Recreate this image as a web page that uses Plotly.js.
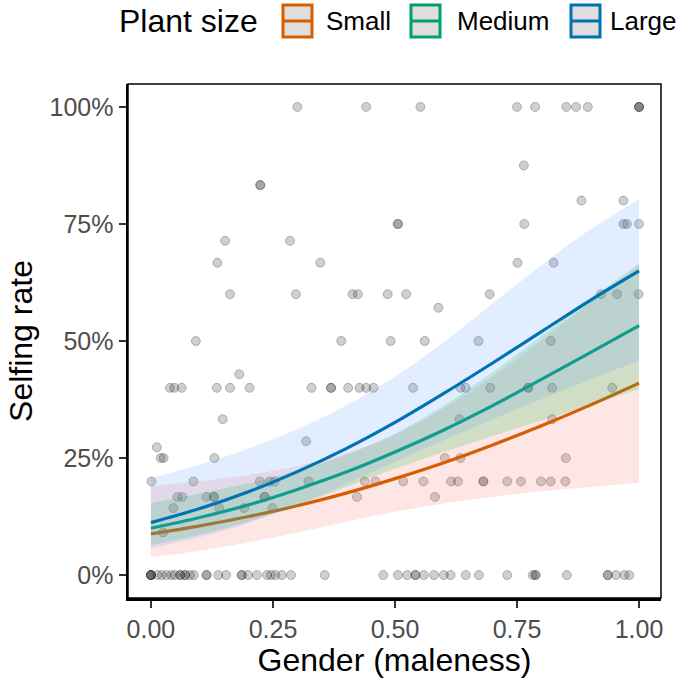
<!DOCTYPE html>
<html>
<head>
<meta charset="utf-8">
<script src="https://cdn.plot.ly/plotly-3.0.1.min.js"></script>
<style>
  html, body { margin: 0; padding: 0; background: #fff; }
  #chart { width: 677px; height: 683px; }
</style>
</head>
<body>
<div id="chart"></div>
<script>
// observed plants: gender (maleness) and selfing rate
var pointGender = [
  0.300, 0.441, 0.552, 0.750, 0.787, 0.851, 0.871, 0.895, 1.000, 1.000, 1.000,
  0.764,
  0.224, 0.224,
  0.882, 0.968,
  0.505, 0.507, 0.765, 0.968, 0.975, 1.000,
  0.152, 0.285,
  0.136, 0.347, 0.751, 0.825,
  0.162, 0.297, 0.413, 0.424, 0.485, 0.523, 0.694, 0.922, 0.955, 0.999,
  0.589,
  0.092, 0.390, 0.491, 0.561, 0.671, 0.819,
  0.181,
  0.039, 0.048, 0.063, 0.135, 0.162, 0.202, 0.329, 0.369, 0.369, 0.404, 0.427,
  0.441, 0.456, 0.537, 0.634, 0.645, 0.695, 0.773, 0.773, 0.822, 0.945,
  0.147, 0.632, 0.822,
  0.318,
  0.012,
  0.020, 0.026, 0.130, 0.602, 0.634, 0.850,
  0.001, 0.087, 0.223, 0.243, 0.253, 0.323, 0.438, 0.460, 0.517, 0.558, 0.615,
  0.629, 0.681, 0.681, 0.730, 0.758, 0.799, 0.819, 0.849,
  0.054, 0.064, 0.114, 0.129, 0.129, 0.233, 0.233, 0.422, 0.582,
  0.046, 0.140, 0.191, 0.249,
  0.025,
  0.000, 0.000, 0.000, 0.000, 0.013, 0.022, 0.032, 0.042, 0.049, 0.060, 0.060,
  0.070, 0.070, 0.080, 0.088, 0.114, 0.114, 0.138, 0.154, 0.186, 0.186, 0.199,
  0.217, 0.238, 0.246, 0.255, 0.268, 0.287, 0.356, 0.476, 0.506, 0.525, 0.542,
  0.542, 0.559, 0.580, 0.600, 0.614, 0.645, 0.672, 0.730, 0.782, 0.788, 0.788,
  0.852, 0.936, 0.936, 0.953, 0.970, 0.980
];
var pointSelfing = [
  1, 1, 1, 1, 1, 1, 1, 1, 1, 1, 1,
  0.875,
  0.833, 0.833,
  0.8, 0.8,
  0.75, 0.75, 0.75, 0.75, 0.75, 0.75,
  0.714, 0.714,
  0.667, 0.667, 0.667, 0.667,
  0.6, 0.6, 0.6, 0.6, 0.6, 0.6, 0.6, 0.6, 0.6, 0.6,
  0.571,
  0.5, 0.5, 0.5, 0.5, 0.5, 0.5,
  0.429,
  0.4, 0.4, 0.4, 0.4, 0.4, 0.4, 0.4, 0.4, 0.4, 0.4, 0.4,
  0.4, 0.4, 0.4, 0.4, 0.4, 0.4, 0.4, 0.4, 0.4, 0.4,
  0.333, 0.333, 0.333,
  0.286,
  0.273,
  0.25, 0.25, 0.25, 0.25, 0.25, 0.25,
  0.2, 0.2, 0.2, 0.2, 0.2, 0.2, 0.2, 0.2, 0.2, 0.2, 0.2,
  0.2, 0.2, 0.2, 0.2, 0.2, 0.2, 0.2, 0.2,
  0.167, 0.167, 0.167, 0.167, 0.167, 0.167, 0.167, 0.167, 0.167,
  0.143, 0.143, 0.143, 0.143,
  0.091,
  0, 0, 0, 0, 0, 0, 0, 0, 0, 0, 0,
  0, 0, 0, 0, 0, 0, 0, 0, 0, 0, 0,
  0, 0, 0, 0, 0, 0, 0, 0, 0, 0, 0,
  0, 0, 0, 0, 0, 0, 0, 0, 0, 0, 0,
  0, 0, 0, 0, 0, 0
];

// fitted curves with confidence bands, read at these gender values
var genderGrid = [0, 0.1, 0.2, 0.3, 0.4, 0.5, 0.6, 0.7, 0.8, 0.9, 1];

var smallFit   = [0.088, 0.105, 0.125, 0.148, 0.175, 0.206, 0.240, 0.278, 0.319, 0.363, 0.410];
var smallLower = [0.038, 0.052, 0.070, 0.091, 0.114, 0.135, 0.153, 0.167, 0.179, 0.188, 0.197];
var smallUpper = [0.190, 0.201, 0.214, 0.233, 0.260, 0.300, 0.356, 0.424, 0.502, 0.583, 0.663];

var mediumFit   = [0.100, 0.123, 0.150, 0.183, 0.220, 0.263, 0.310, 0.362, 0.418, 0.475, 0.533];
var mediumLower = [0.064, 0.086, 0.114, 0.148, 0.188, 0.227, 0.263, 0.297, 0.330, 0.363, 0.397];
var mediumUpper = [0.154, 0.174, 0.196, 0.223, 0.257, 0.302, 0.362, 0.433, 0.511, 0.590, 0.665];

var largeFit   = [0.112, 0.142, 0.178, 0.221, 0.270, 0.326, 0.388, 0.453, 0.520, 0.587, 0.650];
var largeLower = [0.058, 0.081, 0.112, 0.150, 0.195, 0.242, 0.288, 0.333, 0.376, 0.418, 0.458];
var largeUpper = [0.207, 0.236, 0.270, 0.312, 0.362, 0.424, 0.498, 0.580, 0.662, 0.738, 0.803];

var sizeLabels = ['Small', 'Medium', 'Large'];
var lineColors = ['#D55E00', '#009E73', '#0072B2'];
var bandColors = ['rgba(248,118,109,0.18)', 'rgba(0,186,56,0.18)', 'rgba(97,156,255,0.18)'];

var groups = [
  [smallFit, smallLower, smallUpper],
  [mediumFit, mediumLower, mediumUpper],
  [largeFit, largeLower, largeUpper]
];

var data = [{
  type: 'scatter',
  mode: 'markers',
  x: pointGender,
  y: pointSelfing,
  marker: {
    size: 9,
    color: 'rgba(0,0,0,0.19)',
    line: { color: 'rgba(0,0,0,0.24)', width: 1 }
  },
  showlegend: false,
  hoverinfo: 'x+y'
}];

// ribbon then line for each group, same order as ggplot draws them
groups.forEach(function (g, i) {
  data.push({
    type: 'scatter', mode: 'lines', x: genderGrid, y: g[1],
    line: { width: 0, shape: 'spline' }, showlegend: false, hoverinfo: 'skip'
  });
  data.push({
    type: 'scatter', mode: 'lines', x: genderGrid, y: g[2],
    line: { width: 0, shape: 'spline' }, fill: 'tonexty', fillcolor: bandColors[i],
    showlegend: false, hoverinfo: 'skip'
  });
  data.push({
    type: 'scatter', mode: 'lines', x: genderGrid, y: g[0],
    line: { color: lineColors[i], width: 3.2, shape: 'spline' },
    name: sizeLabels[i], showlegend: false
  });
});

// plot area in pixels
var W = 677, H = 683;
var mar = { l: 128, r: 16, t: 84, b: 85 };
var pw = W - mar.l - mar.r, ph = H - mar.t - mar.b;
function px(x) { return (x - mar.l) / pw; }
function py(y) { return (H - mar.b - y) / ph; }

var shapes = [{
  type: 'rect', xref: 'paper', yref: 'paper', x0: 0, x1: 1, y0: 0, y1: 1,
  line: { color: '#000', width: 1.5 }, fillcolor: 'rgba(0,0,0,0)'
}];
var annotations = [{
  xref: 'paper', yref: 'paper', x: px(117), y: py(21), xanchor: 'left', yanchor: 'middle',
  text: 'Plant size', showarrow: false, font: { size: 32, color: '#000' }
}];

// hand-made legend keys
var keyLeft = [283, 411, 571];
var labelLeft = [324, 455, 608];
sizeLabels.forEach(function (lab, i) {
  shapes.push({
    type: 'rect', xref: 'paper', yref: 'paper',
    x0: px(keyLeft[i]), x1: px(keyLeft[i] + 29), y0: py(37), y1: py(5),
    line: { color: lineColors[i], width: 3 }, fillcolor: '#dedede'
  });
  shapes.push({
    type: 'line', xref: 'paper', yref: 'paper',
    x0: px(keyLeft[i]), x1: px(keyLeft[i] + 29), y0: py(21), y1: py(21),
    line: { color: lineColors[i], width: 3 }
  });
  annotations.push({
    xref: 'paper', yref: 'paper', x: px(labelLeft[i]), y: py(21),
    xanchor: 'left', yanchor: 'middle', text: lab, showarrow: false,
    font: { size: 26, color: '#000' }
  });
});

var layout = {
  width: W,
  height: H,
  margin: mar,
  paper_bgcolor: '#fff',
  plot_bgcolor: '#fff',
  font: { family: 'Liberation Sans, Arial, sans-serif' },
  showlegend: false,
  xaxis: {
    range: [-0.047, 1.045],
    tickvals: [0, 0.25, 0.5, 0.75, 1],
    tickformat: '.2f',
    ticks: 'outside', ticklen: 7, tickwidth: 1.5, tickcolor: '#333',
    tickfont: { size: 25, color: '#4d4d4d' },
    showgrid: false, zeroline: false,
    showline: true, linecolor: '#000', linewidth: 2.5,
    title: { text: 'Gender (maleness)', font: { size: 32, color: '#000' }, standoff: 3 }
  },
  yaxis: {
    range: [-0.049, 1.049],
    tickvals: [0, 0.25, 0.5, 0.75, 1],
    tickformat: '.0%',
    ticks: 'outside', ticklen: 7, tickwidth: 1.5, tickcolor: '#333',
    tickfont: { size: 25, color: '#4d4d4d' },
    showgrid: false, zeroline: false,
    showline: true, linecolor: '#000', linewidth: 2.5,
    title: { text: 'Selfing rate', font: { size: 32, color: '#000' }, standoff: 8 }
  },
  shapes: shapes,
  annotations: annotations
};

Plotly.newPlot('chart', data, layout, { displayModeBar: false, staticPlot: true });
</script>
</body>
</html>
